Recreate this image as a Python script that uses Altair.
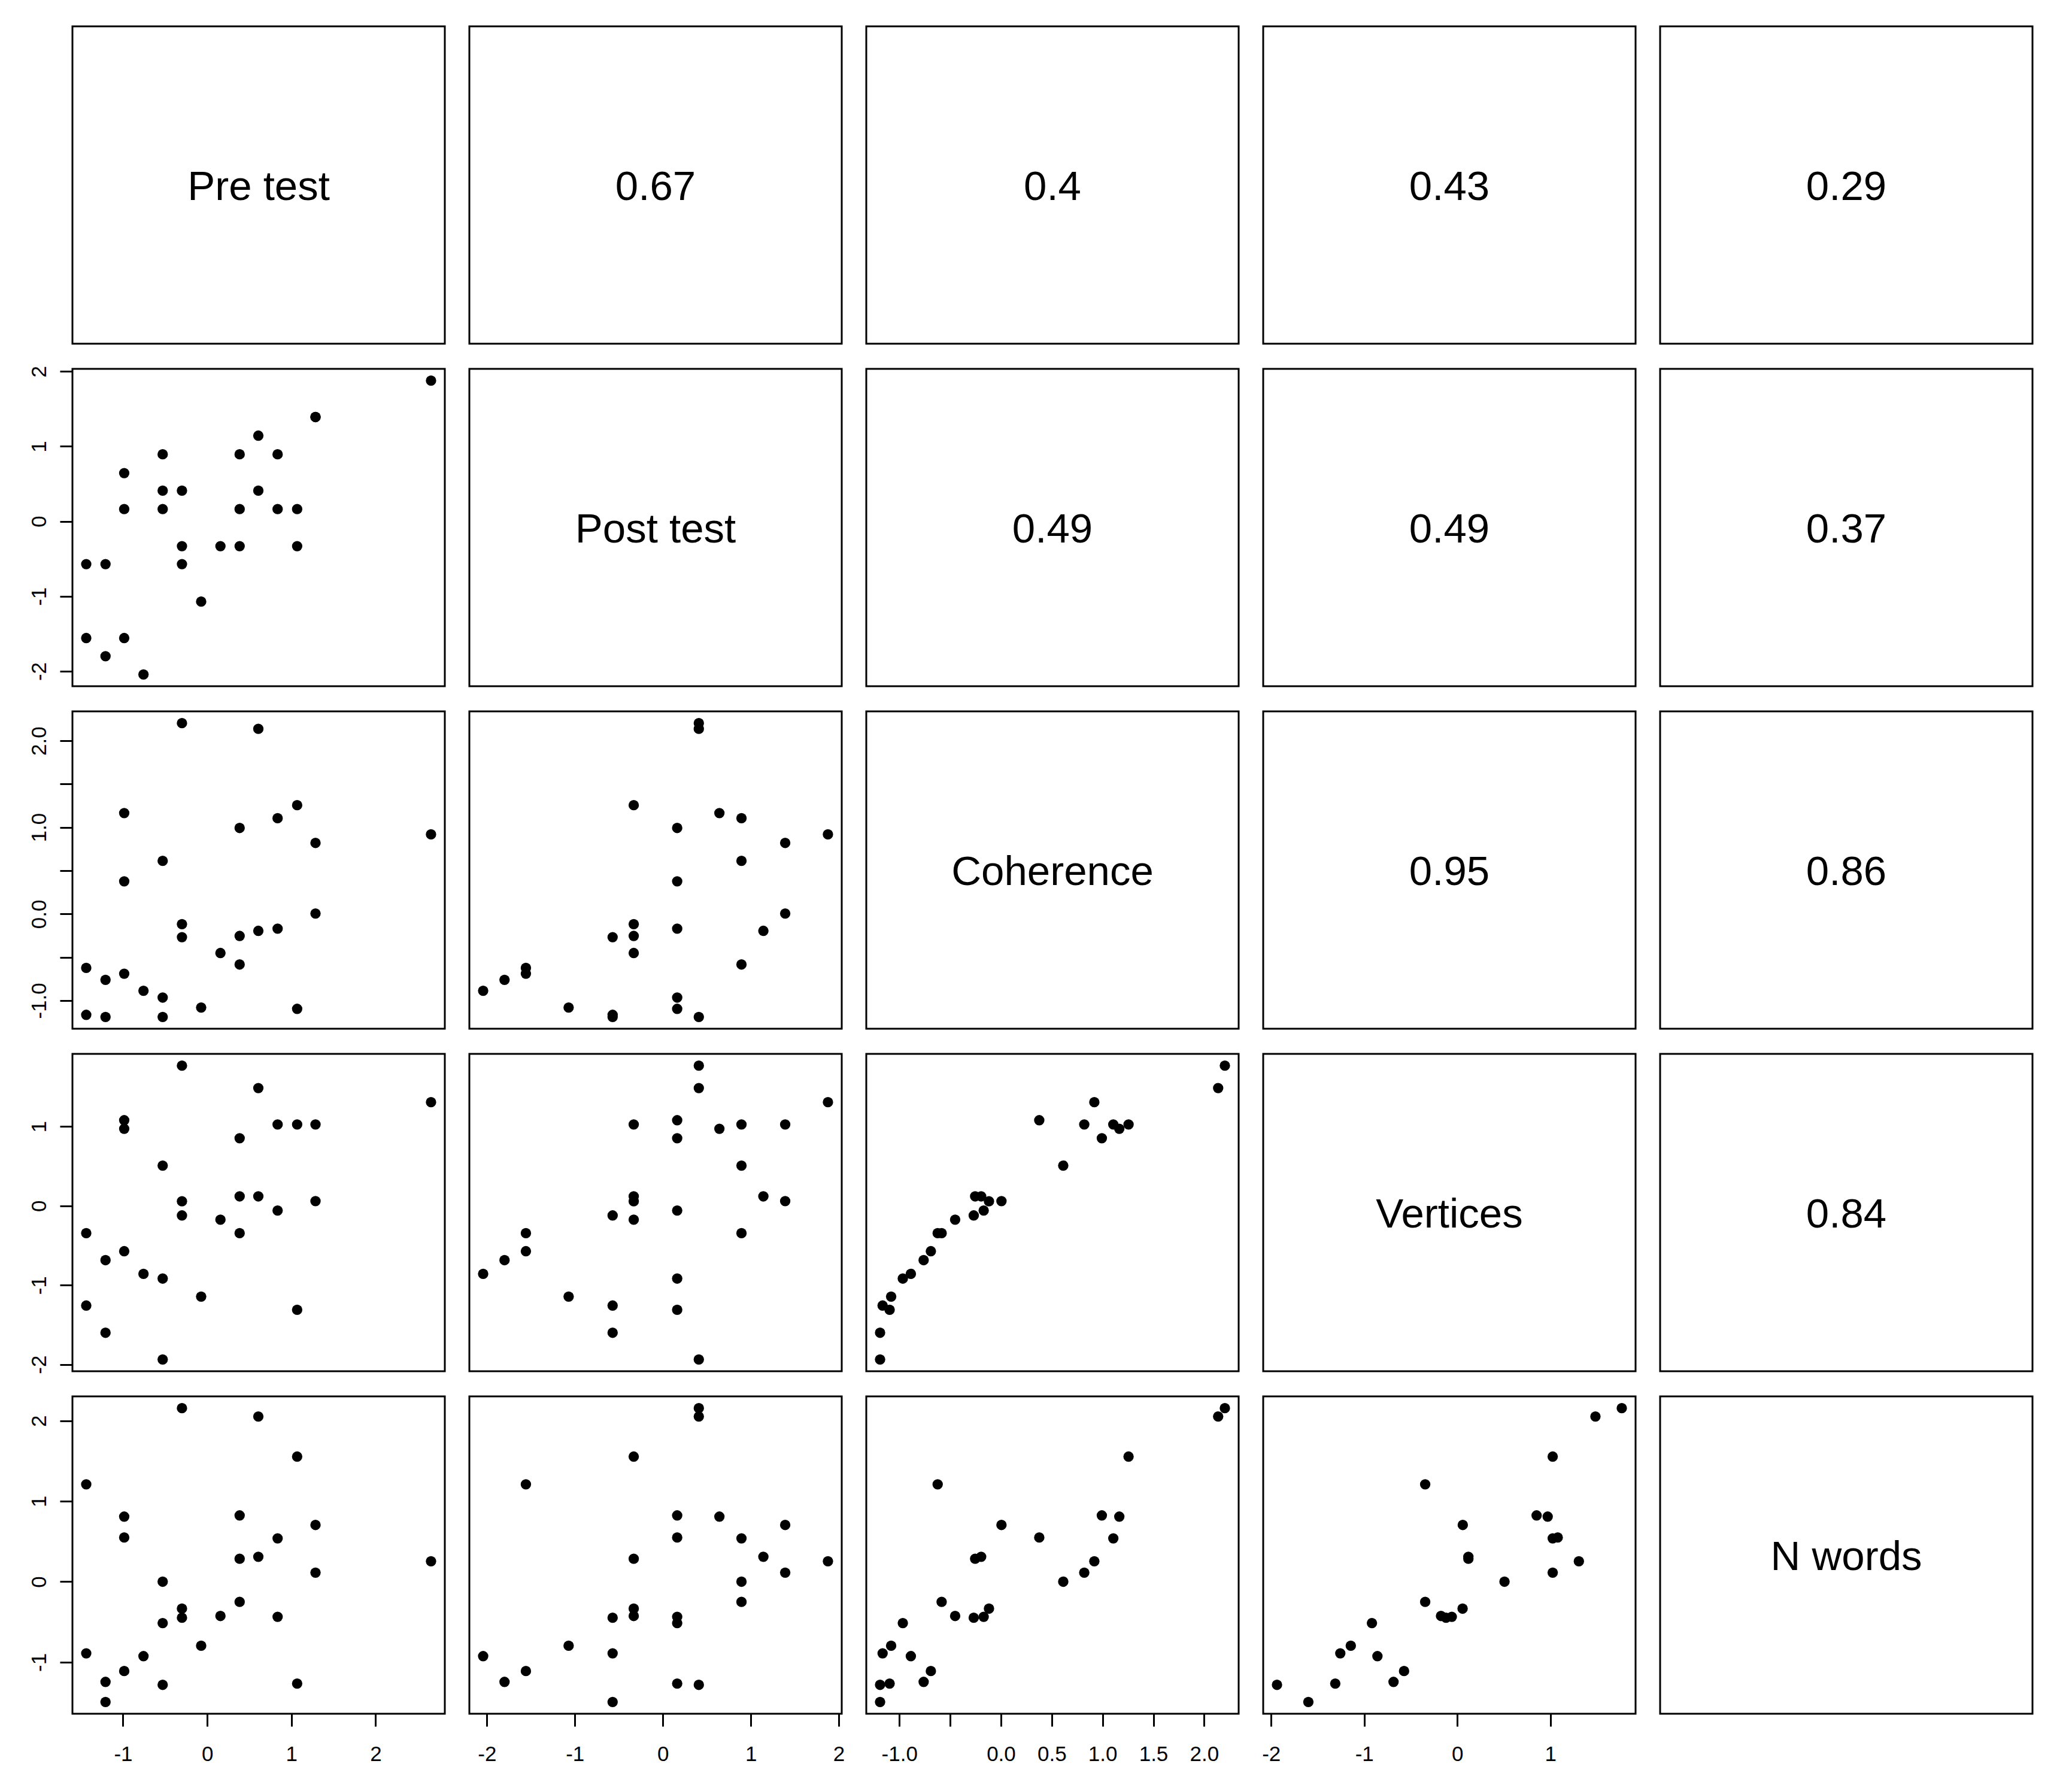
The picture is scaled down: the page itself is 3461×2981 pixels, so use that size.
import altair as alt
import pandas as pd

var_keys = ["pre", "post", "coh", "vert", "nwords"]
var_labels = ["Pre test", "Post test", "Coherence", "Vertices", "N words"]

pre = [2.658, 1.286, 1.286, 0.607, -0.529, 0.385, 0.836, -0.986, -0.529, -0.300,
       0.607, -0.986, -0.529, 0.385, 0.836, 1.068, -0.300, 0.157, 0.385, 1.068,
       -1.437, -1.208, -0.300, -0.072, -1.437, -0.986, -1.208, -0.757]
post = [1.877, 1.391, 1.391, 1.143, 0.894, 0.894, 0.894, 0.643, 0.409, 0.409,
        0.409, 0.163, 0.163, 0.163, 0.163, 0.163, -0.331, -0.331, -0.331, -0.331,
        -0.571, -0.571, -0.571, -1.071, -1.557, -1.557, -1.800, -2.043]
coh = [0.919, 0.005, 0.820, -0.195, 0.613, -0.584, 1.106, 1.165, -1.190, 2.204,
       2.138, 0.377, -0.966, 0.993, -0.170, -1.096, -0.118, -0.451, -0.254, 1.256,
       -1.165, -1.190, -0.268, -1.081, -0.623, -0.690, -0.761, -0.887]
vert = [1.306, 0.059, 1.025, 0.119, 0.507, -0.345, 1.025, 0.971, -1.937, 1.767,
        1.484, 1.079, -0.917, 0.852, -0.059, -1.311, 0.057, -0.175, 0.119, 1.025,
        -1.257, -1.600, -0.121, -1.144, -0.345, -0.572, -0.685, -0.858]
nwords = [0.254, 0.705, 0.113, 0.310, 0.000, -0.251, 0.539, 0.809, -1.282, 2.157,
          2.053, 0.549, -0.514, 0.824, -0.436, -1.266, -0.335, -0.426, 0.285, 1.555,
          -0.890, -1.495, -0.448, -0.796, 1.210, -1.110, -1.245, -0.925]

# correlation texts shown in the upper panels, row by row
corr_labels = {
    (0, 1): "0.67", (0, 2): "0.4", (0, 3): "0.43", (0, 4): "0.29",
    (1, 2): "0.49", (1, 3): "0.49", (1, 4): "0.37",
    (2, 3): "0.95", (2, 4): "0.86",
    (3, 4): "0.84",
}

# axis tick values
ticks = {
    "pre": [-1, 0, 1, 2],
    "post": [-2, -1, 0, 1, 2],
    "coh": [-1.0, -0.5, 0.0, 0.5, 1.0, 1.5, 2.0],
    "vert": [-2, -1, 0, 1],
    "nwords": [-1, 0, 1, 2],
}

df = pd.DataFrame({"pre": pre, "post": post, "coh": coh, "vert": vert, "nwords": nwords})

# ---- styling ----
FONT = "Liberation Sans"
W, H = 622, 530
AX_FS = 35
BIG_FS = 69


def domain(key):
    lo, hi = df[key].min(), df[key].max()
    r = hi - lo
    return [lo - 0.04 * r, hi + 0.04 * r]


def label_expr(key, orient):
    if key == "coh":
        fmt = "(datum.value < 0 ? '-' : '') + format(abs(datum.value), '.1f')"
        if orient == "x":
            return "datum.value == -0.5 ? '' : " + fmt
        return "(datum.value == -1 || datum.value == 0 || datum.value == 1 || datum.value == 2) ? " + fmt + " : ''"
    return "'' + datum.value"


common_axis = dict(
    tickSize=21, tickWidth=3, tickColor="black", domain=False, grid=False,
    labelFontSize=AX_FS, labelFont=FONT, labelColor="black",
    labelOverlap=False, labelFlush=False, labelBound=False, title=None,
)


def x_axis(key):
    return alt.Axis(values=ticks[key], labelExpr=label_expr(key, "x"), orient="bottom",
                    labelAngle=0, labelAlign="center", labelBaseline="top",
                    labelPadding=29, **common_axis)


def y_axis(key):
    return alt.Axis(values=ticks[key], labelExpr=label_expr(key, "y"), orient="left",
                    labelAngle=270, labelAlign="center", labelBaseline="alphabetic",
                    labelPadding=24, **common_axis)


def text_panel(txt):
    return alt.Chart(pd.DataFrame({"t": [txt]})).mark_text(
        font=FONT, fontSize=BIG_FS, color="black", align="center", baseline="alphabetic"
    ).encode(
        x=alt.value(W / 2), y=alt.value(H / 2 + 0.358 * BIG_FS), text="t:N"
    ).properties(width=W, height=H)


panels = []
n = len(var_keys)
for i in range(n):
    for j in range(n):
        if i == j:
            panels.append(text_panel(var_labels[i]))
        elif j > i:
            panels.append(text_panel(corr_labels[(i, j)]))
        else:
            xk, yk = var_keys[j], var_keys[i]
            xa = x_axis(xk) if i == n - 1 else None
            ya = y_axis(yk) if j == 0 else None
            panels.append(
                alt.Chart(df).mark_circle(size=300, color="black", opacity=1).encode(
                    x=alt.X(f"{xk}:Q", scale=alt.Scale(domain=domain(xk), nice=False, zero=False), axis=xa),
                    y=alt.Y(f"{yk}:Q", scale=alt.Scale(domain=domain(yk), nice=False, zero=False), axis=ya),
                ).properties(width=W, height=H)
            )

chart = alt.concat(
    *panels, columns=5, spacing={"row": 42, "column": 41}, bounds="flush"
).properties(
    padding={"left": 38, "top": 34, "right": 10, "bottom": 10},
    background="white",
).configure_view(
    stroke="black", strokeWidth=3
)

chart.save("out.html", embed_options={"renderer": "svg", "actions": False})
